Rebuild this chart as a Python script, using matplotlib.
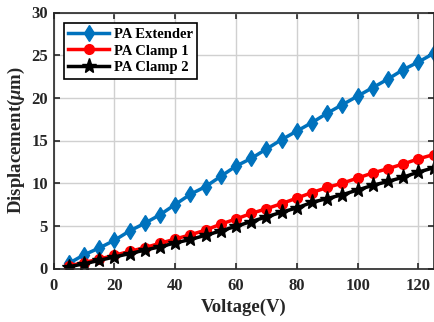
import matplotlib
matplotlib.use("Agg")
import matplotlib.pyplot as plt

plt.rcParams['font.family'] = ['Liberation Serif', 'DejaVu Serif']
plt.rcParams['font.weight'] = 'bold'
plt.rcParams['mathtext.fontset'] = 'custom'
plt.rcParams['mathtext.it'] = 'Liberation Serif:italic:bold'

voltage = list(range(5, 130, 5))
pa_extender = [0.6, 1.6, 2.4, 3.3, 4.4, 5.3, 6.3, 7.5, 8.7, 9.6, 10.8, 12.0, 12.9,
               14.0, 15.1, 16.1, 17.1, 18.2, 19.2, 20.2, 21.2, 22.2, 23.3, 24.2, 25.2]
pa_clamp1 = [0.3, 0.7, 1.1, 1.55, 2.0, 2.45, 2.95, 3.45, 3.95, 4.5, 5.2, 5.8, 6.45,
             7.0, 7.6, 8.25, 8.9, 9.5, 10.0, 10.6, 11.2, 11.7, 12.25, 12.85, 13.35]
pa_clamp2 = [0.2, 0.55, 0.95, 1.35, 1.75, 2.15, 2.55, 3.0, 3.4, 3.9, 4.4, 4.95, 5.5,
             6.05, 6.6, 7.1, 7.75, 8.2, 8.65, 9.2, 9.75, 10.2, 10.7, 11.3, 11.8]

fig = plt.figure(figsize=(4.35, 3.22), dpi=100)
ax = fig.add_axes([53.6 / 435, 1 - 268.5 / 322, (433.6 - 53.6) / 435, (268.5 - 12.5) / 322])

ax.plot(voltage, pa_extender, color='#0072BD', lw=2.5, marker='d', ms=8, label='PA Extender')
ax.plot(voltage, pa_clamp1, color='#FF0000', lw=2.5, marker='o', ms=7, label='PA Clamp 1')
ax.plot(voltage, pa_clamp2, color='black', lw=2.5, marker='*', ms=11, label='PA Clamp 2')

ax.set_xlim(0, 125)
ax.set_ylim(0, 30)
ax.set_xticks([0, 20, 40, 60, 80, 100, 120])
ax.set_yticks([0, 5, 10, 15, 20, 25, 30])
ax.grid(True, color='#d0d0d0', lw=1)
ax.tick_params(direction='in', top=True, right=True, labelsize=12, length=4, width=1.2, colors='#262626')
ax.tick_params(axis='x', pad=7)
ax.tick_params(axis='y', pad=4)
for s in ax.spines.values():
    s.set_linewidth(1.2)
    s.set_color('#262626')

ax.set_xlabel('Voltage(V)', fontsize=13.5, fontweight='bold', color='#262626', labelpad=3)
ax.set_ylabel(r'Displacement($\mu$m)', fontsize=13.5, fontweight='bold', color='#262626', labelpad=3)

leg = ax.legend(loc='upper left', bbox_to_anchor=(0.02, 0.97), fontsize=10.5, frameon=True,
                fancybox=False, edgecolor='black', framealpha=1, handlelength=2.8,
                borderpad=0.3, labelspacing=0.25, handletextpad=0.3, borderaxespad=0.2)
leg.get_frame().set_linewidth(1.2)

fig.savefig('out.png', dpi=100)
